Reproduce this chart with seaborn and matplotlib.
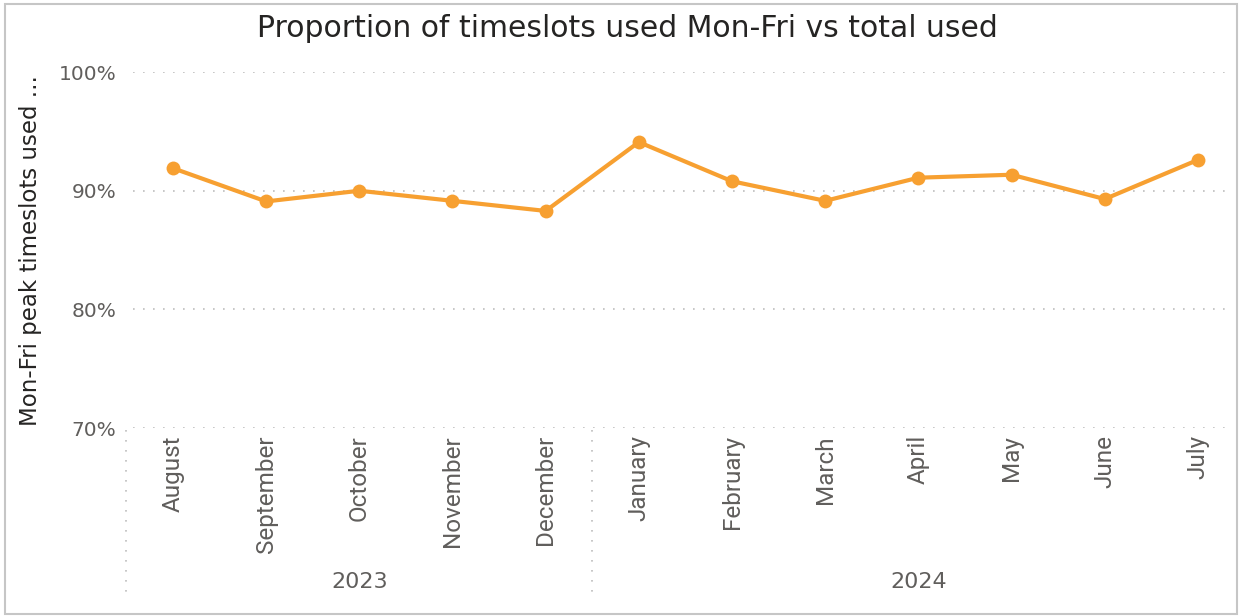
import matplotlib
matplotlib.use("Agg")
import matplotlib.pyplot as plt
import matplotlib.transforms as mtransforms
from matplotlib.patches import Rectangle
from matplotlib.ticker import PercentFormatter
import numpy as np
import pandas as pd
import seaborn as sns

months = ["August", "September", "October", "November", "December",
          "January", "February", "March", "April", "May", "June", "July"]
years = ["2023"] * 5 + ["2024"] * 7
share_pct = [91.9, 89.1, 90.0, 89.15, 88.3, 94.1, 90.8, 89.15, 91.1, 91.35, 89.3, 92.6]

df = pd.DataFrame({"month": months, "year": years, "share": share_pct})
df["pos"] = np.arange(len(df))

sns.set_theme(style="white")
plt.rcParams["font.family"] = ["Roboto", "DejaVu Sans"]

line_col = "#F7A031"
tick_col = "#605E5C"
text_col = "#252423"
cond = ["DejaVu Sans Condensed", "DejaVu Sans"]

fig = plt.figure(figsize=(12.42, 6.16), dpi=100)
ax = fig.add_axes([0.107, 0.305, 0.883, 0.578])

sns.lineplot(data=df, x="pos", y="share", marker="o", markersize=10,
             markeredgewidth=0, color=line_col, linewidth=3, ax=ax)

ax.set_ylim(70, 100)
ax.set_yticks([70, 80, 90, 100])
ax.yaxis.set_major_formatter(PercentFormatter(decimals=0))
ax.set_xlim(-0.43, len(months) - 0.66)
ax.set_xticks(df["pos"])
ax.set_xticklabels(months, rotation=90, va="top", ha="center")
ax.tick_params(axis="x", length=0, pad=5, labelsize=17.5, labelcolor=tick_col)
ax.tick_params(axis="y", length=0, pad=12, labelsize=14.5, labelcolor=tick_col)
for lbl in ax.get_yticklabels():
    lbl.set_fontfamily(cond)

ax.grid(axis="y", linestyle=(0, (1, 5)), color="#BDBDBD", linewidth=1.2)
ax.grid(axis="x", visible=False)
sns.despine(ax=ax, left=True, bottom=True)

ax.set_xlabel("")
ax.set_ylabel("Mon-Fri peak timeslots used ...", fontsize=16.5, color=text_col,
              family=["DejaVu Sans"])
ax.yaxis.set_label_coords(-0.083, 0.5)

# year groups below the month labels
trans = mtransforms.blended_transform_factory(ax.transData, ax.transAxes)
groups = df.groupby("year", sort=False)["pos"]
for yr, pos in groups:
    ax.text(pos.mean(), -0.433, yr, transform=trans, ha="center", va="center",
            fontsize=16, color=tick_col, family=cond)
    ax.plot([pos.min() - 0.5] * 2, [-0.006, -0.47], transform=trans, clip_on=False,
            linestyle=(0, (1, 5)), color="#BDBDBD", linewidth=1.2)

fig.suptitle("Proportion of timeslots used Mon-Fri vs total used",
             x=0.505, y=0.978, fontsize=21.5, color=text_col, family=["DejaVu Sans"])

fig.patches.append(Rectangle((0.004, 0.004), 0.992, 0.99, transform=fig.transFigure,
                             fill=False, edgecolor="#C6C6C6", linewidth=1.5))

fig.savefig("out.png", dpi=100)
